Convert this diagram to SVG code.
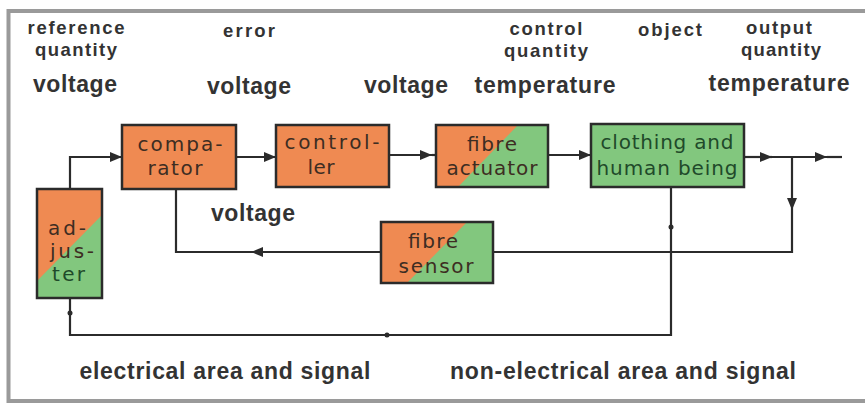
<svg xmlns="http://www.w3.org/2000/svg" width="865" height="403" viewBox="0 0 865 403">
<defs>
<style>
.lbl{font-family:"Liberation Sans",Arial,sans-serif;font-weight:bold;fill:#333;text-anchor:middle}
.s{font-size:18.5px}
.b{font-size:23px}
.box{stroke:#2b2b2b;stroke-width:2.5}
.or{fill:#ef8a52}
.gr{fill:#82c77e}
.bt{font-family:"DejaVu Sans",Verdana,sans-serif;font-size:20px;fill:#3d2d22}
.gt{font-family:"DejaVu Sans",Verdana,sans-serif;font-size:20px;fill:#1f4a2a}
.ln{fill:none;stroke:#2b2b2b;stroke-width:2.2}
</style>
<marker id="ah" viewBox="0 0 12 10" refX="12" refY="5" markerWidth="12" markerHeight="10" markerUnits="userSpaceOnUse" orient="auto">
<path d="M0,0 L12,5 L0,10 Z" fill="#2b2b2b"/>
</marker>
</defs>
<rect width="865" height="403" fill="#ffffff"/>
<path d="M870,11 H8.5 V401 H870" fill="none" stroke="#9a9a9a" stroke-width="4"/>

<g id="labels">
<text class="lbl s" x="76" y="34" textLength="97">reference</text>
<text class="lbl s" x="76" y="56" textLength="82">quantity</text>
<text class="lbl b" x="75" y="92" textLength="84">voltage</text>
<text class="lbl s" x="249" y="37" textLength="52">error</text>
<text class="lbl b" x="249" y="94" textLength="84">voltage</text>
<text class="lbl b" x="406" y="93" textLength="84">voltage</text>
<text class="lbl s" x="546" y="35" textLength="73">control</text>
<text class="lbl s" x="546" y="57" textLength="84">quantity</text>
<text class="lbl b" x="545" y="93" textLength="141">temperature</text>
<text class="lbl s" x="670" y="36" textLength="64">object</text>
<text class="lbl s" x="779" y="34" textLength="66">output</text>
<text class="lbl s" x="781" y="56" textLength="80">quantity</text>
<text class="lbl b" x="779" y="91" textLength="141">temperature</text>
<text class="lbl b" x="253" y="221" textLength="84">voltage</text>
<text class="lbl b" x="225" y="379" textLength="291">electrical area and signal</text>
<text class="lbl b" x="623" y="379" textLength="346">non-electrical area and signal</text>
</g>

<g id="connectors">
<path class="ln" d="M70,189 V157 H122" marker-end="url(#ah)"/>
<path class="ln" d="M236,157 H276" marker-end="url(#ah)"/>
<path class="ln" d="M389,155 H432" stroke-width="3.2" marker-end="url(#ah)"/>
<path class="ln" d="M432,155 H436"/>
<path class="ln" d="M548,155 H591" marker-end="url(#ah)"/>
<path class="ln" d="M744,157 H772" marker-end="url(#ah)"/>
<path class="ln" d="M772,157 H827" marker-end="url(#ah)"/>
<path class="ln" d="M827,157 H842"/>
<path class="ln" d="M792,157 V210" marker-end="url(#ah)"/>
<path class="ln" d="M792,210 V252 H493"/>
<path class="ln" d="M381,252 H251" marker-end="url(#ah)"/>
<path class="ln" d="M253,252 H176 V189"/>
<path class="ln" d="M671,187 V335 H70 V298"/>
<circle cx="671" cy="227" r="2.5" fill="#2b2b2b"/>
<circle cx="387" cy="335" r="2.5" fill="#2b2b2b"/>
<circle cx="70" cy="313" r="2.5" fill="#2b2b2b"/>
</g>

<g id="adjuster">
<rect class="gr" x="37" y="189" width="65" height="109"/>
<path class="or" d="M37,189 H102 V215 L37,281 Z"/>
<rect class="box" x="37" y="189" width="65" height="109" fill="none"/>
<text class="bt" x="48" y="235" textLength="38">ad-</text>
<text class="bt" x="50" y="258" textLength="44">jus-</text>
<text class="gt" x="52" y="281" textLength="33">ter</text>
</g>

<g id="comparator">
<rect class="box or" x="122" y="125" width="114" height="64"/>
<text class="bt" x="180" y="151" text-anchor="middle" textLength="85">compa-</text>
<text class="bt" x="175" y="175" text-anchor="middle" textLength="55">rator</text>
</g>

<g id="controller">
<rect class="box or" x="276" y="125" width="113" height="62"/>
<text class="bt" x="332" y="149" text-anchor="middle" textLength="95">control-</text>
<text class="bt" x="321" y="174" text-anchor="middle" textLength="27">ler</text>
</g>

<g id="fibre-actuator">
<rect class="gr" x="436" y="125" width="112" height="62"/>
<path class="or" d="M436,125 H518 L458,187 H436 Z"/>
<rect class="box" x="436" y="125" width="112" height="62" fill="none"/>
<text class="bt" x="492" y="151" text-anchor="middle" textLength="50">fibre</text>
<text class="bt" x="492" y="175" text-anchor="middle" textLength="91">actuator</text>
</g>

<g id="clothing">
<rect class="box gr" x="591" y="124" width="153" height="63"/>
<text class="gt" x="667" y="149" text-anchor="middle" textLength="133">clothing and</text>
<text class="gt" x="667" y="175" text-anchor="middle" textLength="141">human being</text>
</g>

<g id="fibre-sensor">
<rect class="gr" x="381" y="222" width="112" height="61"/>
<path class="or" d="M381,222 H467 L407,283 H381 Z"/>
<rect class="box" x="381" y="222" width="112" height="61" fill="none"/>
<text class="bt" x="433" y="248" text-anchor="middle" font-size="19" textLength="50">fibre</text>
<text class="bt" x="436" y="273" text-anchor="middle" font-size="19" textLength="75">sensor</text>
</g>
</svg>
